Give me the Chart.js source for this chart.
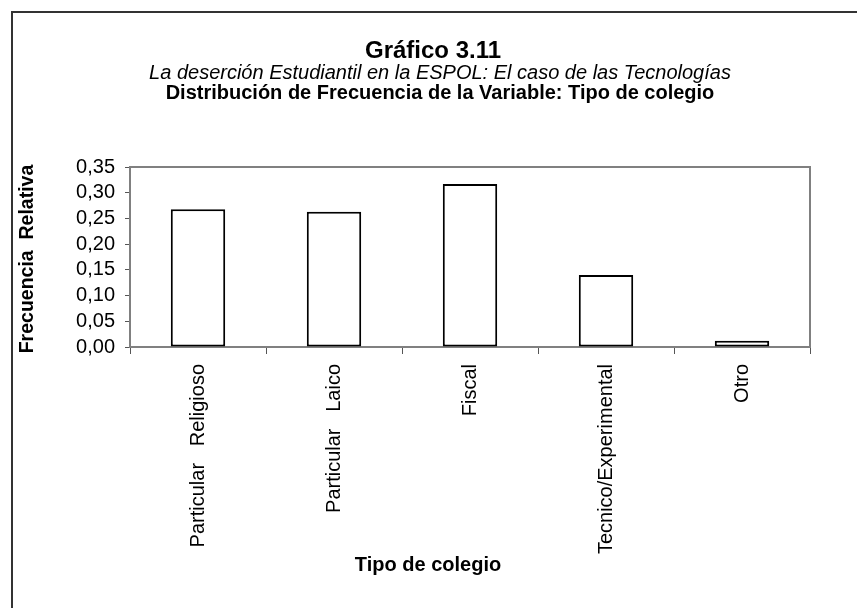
<!DOCTYPE html>
<html>
<head>
<meta charset="utf-8">
<script src="https://cdn.jsdelivr.net/npm/chart.js"></script>
<style>
  body { margin: 0; background: #fff; }
  #wrap { width: 857px; height: 608px; }
</style>
</head>
<body>
<div id="wrap"><canvas id="chart" width="857" height="608"></canvas></div>
<script>
// data
const categories = ['Particular   Religioso', 'Particular   Laico', 'Fiscal', 'Tecnico/Experimental', 'Otro'];
const frecuencia = [0.268, 0.263, 0.317, 0.140, 0.012];
const yTicks = [0, 0.05, 0.10, 0.15, 0.20, 0.25, 0.30, 0.35];

const FONT = '"Liberation Sans", Arial, sans-serif';
const headerLines = [
  { text: 'Gráfico 3.11', font: 'bold 24px ' + FONT, x: 433, y: 51 },
  { text: 'La deserción Estudiantil en la ESPOL: El caso de las Tecnologías', font: 'italic 20px ' + FONT, x: 440, y: 73 },
  { text: 'Distribución de Frecuencia de la Variable: Tipo de colegio', font: 'bold 20px ' + FONT, x: 440, y: 93 }
];

// draws the frame, the header and both axis titles
const decor = {
  id: 'decor',
  beforeDraw(chart) {
    const ctx = chart.ctx;
    ctx.save();
    ctx.fillStyle = '#fff';
    ctx.fillRect(0, 0, chart.width, chart.height);
    ctx.strokeStyle = '#333';
    ctx.lineWidth = 2;
    ctx.beginPath();
    ctx.moveTo(12, chart.height);
    ctx.lineTo(12, 12);
    ctx.lineTo(chart.width, 12);
    ctx.stroke();
    ctx.restore();
  },
  afterDraw(chart) {
    const ctx = chart.ctx;
    const a = chart.chartArea;
    ctx.save();
    // plot frame top and right
    ctx.strokeStyle = '#808080';
    ctx.lineWidth = 2;
    ctx.beginPath();
    ctx.moveTo(a.left, a.top);
    ctx.lineTo(a.right, a.top);
    ctx.lineTo(a.right, a.bottom);
    ctx.stroke();

    ctx.fillStyle = '#000';
    ctx.textAlign = 'center';
    ctx.textBaseline = 'middle';
    headerLines.forEach(l => {
      ctx.font = l.font;
      ctx.fillText(l.text, l.x, l.y);
    });

    ctx.font = 'bold 20px ' + FONT;
    ctx.fillText('Tipo de colegio', 428, 565);

    ctx.translate(28, 259);
    ctx.rotate(-Math.PI / 2);
    ctx.font = 'bold 19.5px ' + FONT;
    ctx.fillText('Frecuencia  Relativa', 0, 0);
    ctx.restore();
  }
};

new Chart(document.getElementById('chart'), {
  type: 'bar',
  data: {
    labels: categories,
    datasets: [{
      data: frecuencia,
      backgroundColor: '#fff',
      borderColor: '#000',
      borderWidth: 2,
      borderSkipped: false,
      barPercentage: 0.8,
      categoryPercentage: 0.5
    }]
  },
  plugins: [decor],
  options: {
    responsive: false,
    animation: false,
    layout: { padding: { top: 167, right: 47, left: 0, bottom: 0 } },
    plugins: {
      legend: { display: false },
      tooltip: { enabled: false }
    },
    scales: {
      x: {
        offset: true,
        afterFit: s => { s.height = 261; },
        border: { color: '#808080', width: 2 },
        grid: { offset: true, drawOnChartArea: false, tickLength: 7, color: '#555' },
        ticks: {
          autoSkip: false,
          minRotation: 90,
          maxRotation: 90,
          padding: 10,
          color: '#000',
          font: { family: FONT, size: 20 }
        }
      },
      y: {
        min: 0,
        max: 0.35,
        afterFit: s => { s.width = 130; },
        afterBuildTicks: s => { s.ticks = yTicks.map(v => ({ value: v })); },
        border: { color: '#808080', width: 2 },
        grid: { drawOnChartArea: false, tickLength: 5, color: '#555' },
        ticks: {
          autoSkip: false,
          padding: 10,
          color: '#000',
          font: { family: FONT, size: 20 },
          callback: v => v.toFixed(2).replace('.', ',')
        }
      }
    }
  }
});
</script>
</body>
</html>
